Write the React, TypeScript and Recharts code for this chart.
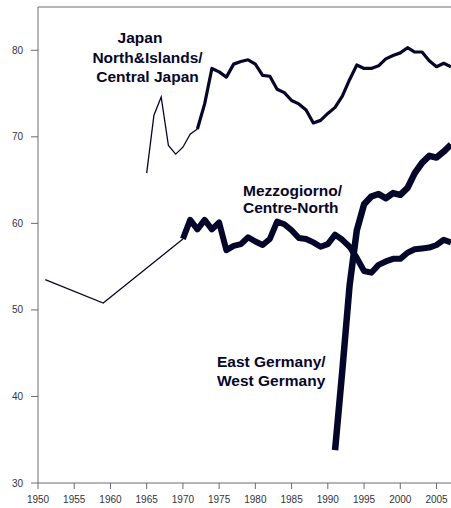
import React from "react";
import { LineChart, Line, XAxis, YAxis, ReferenceLine } from "recharts";

const xTicks = [1950, 1955, 1960, 1965, 1970, 1975, 1980, 1985, 1990, 1995, 2000, 2005];
const yTicks = [30, 40, 50, 60, 70, 80];

const italyThinYears = [1951, 1959, 1970];
const italyThinValues = [53.5, 50.8, 58.2];

const italyYears = [1970, 1971, 1972, 1973, 1974, 1975, 1976, 1977, 1978, 1979, 1980, 1981, 1982, 1983, 1984, 1985, 1986, 1987, 1988, 1989, 1990, 1991, 1992, 1993, 1994, 1995, 1996, 1997, 1998, 1999, 2000, 2001, 2002, 2003, 2004, 2005, 2006, 2007];
const italyValues = [58.2, 60.4, 59.3, 60.4, 59.3, 60.1, 56.9, 57.4, 57.6, 58.4, 57.9, 57.5, 58.2, 60.2, 59.9, 59.2, 58.3, 58.2, 57.8, 57.3, 57.6, 58.7, 58.1, 57.3, 56.0, 54.5, 54.3, 55.2, 55.6, 55.9, 55.9, 56.6, 57.0, 57.1, 57.2, 57.5, 58.1, 57.8];

const japanThinYears = [1965, 1966, 1967, 1968, 1969, 1970, 1971, 1972];
const japanThinValues = [65.8, 72.5, 74.6, 69.0, 68.0, 68.8, 70.3, 70.9];

const japanYears = [1972, 1973, 1974, 1975, 1976, 1977, 1978, 1979, 1980, 1981, 1982, 1983, 1984, 1985, 1986, 1987, 1988, 1989, 1990, 1991, 1992, 1993, 1994, 1995, 1996, 1997, 1998, 1999, 2000, 2001, 2002, 2003, 2004, 2005, 2006, 2007];
const japanValues = [70.9, 73.8, 77.9, 77.5, 76.9, 78.4, 78.7, 78.9, 78.4, 77.1, 77.0, 75.5, 75.1, 74.2, 73.8, 73.1, 71.6, 71.9, 72.7, 73.4, 74.7, 76.6, 78.3, 77.9, 77.9, 78.2, 79.0, 79.4, 79.7, 80.3, 79.8, 79.8, 78.8, 78.1, 78.5, 78.1];

const germanyYears = [1991, 1992, 1993, 1994, 1995, 1996, 1997, 1998, 1999, 2000, 2001, 2002, 2003, 2004, 2005, 2006, 2007];
const germanyValues = [33.8, 43.0, 52.8, 59.2, 62.2, 63.1, 63.4, 62.9, 63.5, 63.3, 64.1, 65.8, 67.0, 67.8, 67.6, 68.3, 69.1];

const toRows = (years: number[], values: number[]) =>
  years.map((year, i) => ({ year, value: values[i] }));

const LINE = "#06062a";
const AXIS = "#6a6a78";
const TEXT = "#333340";
const LABEL_FONT = "'Liberation Sans', Arial, sans-serif";

const labelStyle: React.CSSProperties = {
  fontFamily: LABEL_FONT,
  fontWeight: 700,
  fontSize: 15.5,
  fill: LINE,
};

export default function App() {
  return (
    <div style={{ position: "absolute", left: 0, top: 0 }}>
      <LineChart width={451} height={508} margin={{ top: 7, right: 0, left: 0, bottom: 0 }}>
        <XAxis
          dataKey="year"
          type="number"
          domain={[1950, 2007]}
          ticks={xTicks}
          allowDataOverflow
          height={25}
          stroke={AXIS}
          tickSize={6}
          tickMargin={7}
          tick={{ fill: TEXT, fontSize: 10, fontFamily: LABEL_FONT }}
          allowDuplicatedCategory={false}
        />
        <YAxis
          type="number"
          domain={[30, 85]}
          ticks={yTicks}
          allowDataOverflow
          width={38}
          stroke={AXIS}
          tickSize={7}
          tickMargin={8}
          tick={{ fill: TEXT, fontSize: 10, fontFamily: LABEL_FONT }}
        />
        <ReferenceLine y={85} stroke={AXIS} strokeWidth={1} />
        <Line data={toRows(italyThinYears, italyThinValues)} dataKey="value" stroke={LINE} strokeWidth={1.3} dot={false} isAnimationActive={false} />
        <Line data={toRows(italyYears, italyValues)} dataKey="value" stroke={LINE} strokeWidth={6} strokeLinejoin="round" dot={false} isAnimationActive={false} />
        <Line data={toRows(japanThinYears, japanThinValues)} dataKey="value" stroke={LINE} strokeWidth={1.3} dot={false} isAnimationActive={false} />
        <Line data={toRows(japanYears, japanValues)} dataKey="value" stroke={LINE} strokeWidth={3.2} strokeLinejoin="round" dot={false} isAnimationActive={false} />
        <Line data={toRows(germanyYears, germanyValues)} dataKey="value" stroke={LINE} strokeWidth={6.5} strokeLinejoin="round" dot={false} isAnimationActive={false} />
        <text x={140} y={43} textAnchor="middle" style={labelStyle}>Japan</text>
        <text x={147.5} y={62.5} textAnchor="middle" style={labelStyle}>North&amp;Islands/</text>
        <text x={147.5} y={82} textAnchor="middle" style={labelStyle}>Central Japan</text>
        <text x={243} y={195.5} textAnchor="start" style={labelStyle}>Mezzogiorno/</text>
        <text x={243} y={212.5} textAnchor="start" style={labelStyle}>Centre-North</text>
        <text x={217} y={366.5} textAnchor="start" style={labelStyle}>East Germany/</text>
        <text x={217} y={386} textAnchor="start" style={labelStyle}>West Germany</text>
      </LineChart>
    </div>
  );
}
